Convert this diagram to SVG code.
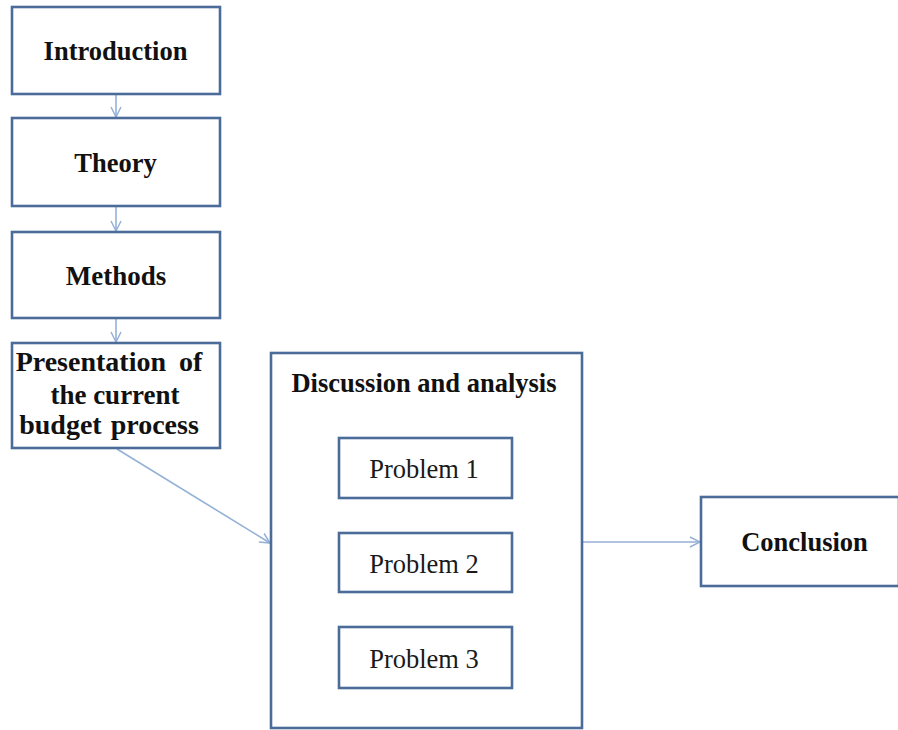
<svg xmlns="http://www.w3.org/2000/svg" width="898" height="730" viewBox="0 0 898 730">
  <defs>
    <!-- open chevron head used on every connector -->
    <marker id="head" viewBox="0 0 12 12" refX="11" refY="6" markerWidth="12" markerHeight="12" markerUnits="userSpaceOnUse" orient="auto">
      <path d="M1,1 L11,6 L1,11" fill="none" stroke="#94b1d6" stroke-width="1.5"/>
    </marker>
  </defs>
  <style>
    .box { fill: #ffffff; stroke: #4b6b99; stroke-width: 2.6; }
    .title { font-family: "Liberation Serif", "Times New Roman", serif; font-weight: bold; font-size: 26.5px; fill: #111111; text-anchor: middle; }
    .big { font-size: 28px; }
    .item { font-family: "Liberation Serif", "Times New Roman", serif; font-size: 26.5px; fill: #1a1a1a; text-anchor: middle; }
    .link { fill: none; stroke: #94b1d6; stroke-width: 1.6; marker-end: url(#head); }
  </style>
  <rect width="898" height="730" fill="#ffffff"/>

  <g id="connectors">
    <line class="link" x1="116" y1="95" x2="116" y2="117"/>
    <line class="link" x1="116" y1="207" x2="116" y2="231"/>
    <line class="link" x1="116" y1="319" x2="116" y2="342"/>
    <line class="link" x1="117" y1="449" x2="270" y2="543"/>
    <line class="link" x1="583" y1="542" x2="700" y2="542"/>
  </g>

  <g id="introduction">
    <rect class="box" x="12" y="7" width="208" height="87"/>
    <text class="title" x="115.5" y="60">Introduction</text>
  </g>

  <g id="theory">
    <rect class="box" x="12" y="118" width="208" height="88"/>
    <text class="title" x="115.5" y="172">Theory</text>
  </g>

  <g id="methods">
    <rect class="box" x="12" y="232" width="208" height="86"/>
    <text class="title" x="116" y="285" style="font-size:27px">Methods</text>
  </g>

  <g id="presentation">
    <rect class="box" x="12" y="343" width="208" height="105"/>
    <text class="title big" x="109" y="371" style="word-spacing:6px">Presentation of</text>
    <text class="title" x="115" y="404" style="font-size:27px">the current</text>
    <text class="title big" x="109" y="434" style="word-spacing:2px">budget process</text>
  </g>

  <g id="discussion">
    <rect class="box" x="271" y="353" width="311" height="375"/>
    <text class="title" x="424" y="392">Discussion and analysis</text>
  </g>

  <g id="problem1">
    <rect class="box" x="339" y="438" width="173" height="60"/>
    <text class="item" x="424" y="478">Problem 1</text>
  </g>

  <g id="problem2">
    <rect class="box" x="339" y="533" width="173" height="59"/>
    <text class="item" x="424" y="573">Problem 2</text>
  </g>

  <g id="problem3">
    <rect class="box" x="339" y="627" width="173" height="61"/>
    <text class="item" x="424" y="668">Problem 3</text>
  </g>

  <g id="conclusion">
    <rect class="box" x="701" y="497" width="198" height="89"/>
    <text class="title" x="804.5" y="551">Conclusion</text>
  </g>
</svg>
